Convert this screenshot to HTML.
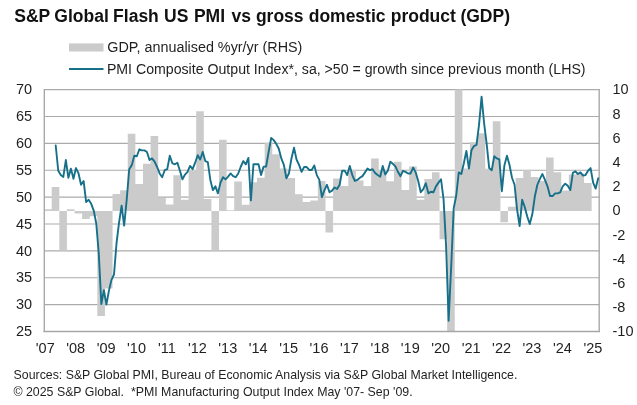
<!DOCTYPE html>
<html><head><meta charset="utf-8"><title>S&amp;P Global Flash US PMI vs GDP</title>
<style>html,body{margin:0;padding:0;background:#fff}body{width:637px;height:405px;overflow:hidden}</style></head>
<body>
<svg width="637" height="405" viewBox="0 0 637 405" style="display:block">
<rect width="637" height="405" fill="#ffffff"/>
<line x1="44.30" x2="599.20" y1="331.50" y2="331.50" stroke="#ababab" stroke-width="1.05"/>
<line x1="44.30" x2="599.20" y1="304.62" y2="304.62" stroke="#ababab" stroke-width="1.05"/>
<line x1="44.30" x2="599.20" y1="277.74" y2="277.74" stroke="#ababab" stroke-width="1.05"/>
<line x1="44.30" x2="599.20" y1="250.87" y2="250.87" stroke="#ababab" stroke-width="1.05"/>
<line x1="44.30" x2="599.20" y1="223.99" y2="223.99" stroke="#ababab" stroke-width="1.05"/>
<line x1="44.30" x2="599.20" y1="197.11" y2="197.11" stroke="#ababab" stroke-width="1.05"/>
<line x1="44.30" x2="599.20" y1="170.23" y2="170.23" stroke="#ababab" stroke-width="1.05"/>
<line x1="44.30" x2="599.20" y1="143.36" y2="143.36" stroke="#ababab" stroke-width="1.05"/>
<line x1="44.30" x2="599.20" y1="116.48" y2="116.48" stroke="#ababab" stroke-width="1.05"/>
<line x1="44.30" x2="599.20" y1="89.60" y2="89.60" stroke="#ababab" stroke-width="1.05"/>
<path d="M44.30,211.00L44.30,209.34L51.70,209.34L51.70,187.09L59.31,187.09L59.31,250.46L66.92,250.46L66.92,209.34L74.52,209.34L74.52,213.45L82.12,213.45L82.12,219.02L89.73,219.02L89.73,216.23L97.34,216.23L97.34,316.02L104.94,316.02L104.94,288.56L112.55,288.56L112.55,194.10L120.15,194.10L120.15,190.35L127.75,190.35L127.75,133.75L135.36,133.75L135.36,184.06L142.97,184.06L142.97,163.74L150.57,163.74L150.57,136.04L158.18,136.04L158.18,197.97L165.78,197.97L165.78,204.50L173.38,204.50L173.38,175.35L180.99,175.35L180.99,199.79L188.59,199.79L188.59,170.03L196.20,170.03L196.20,111.13L203.81,111.13L203.81,199.06L211.41,199.06L211.41,250.22L219.02,250.22L219.02,139.79L226.62,139.79L226.62,210.19L234.22,210.19L234.22,181.40L241.83,181.40L241.83,204.87L249.44,204.87L249.44,182.13L257.04,182.13L257.04,177.77L264.65,177.77L264.65,142.82L272.25,142.82L272.25,154.19L279.86,154.19L279.86,168.58L287.46,168.58L287.46,178.01L295.06,178.01L295.06,194.22L302.67,194.22L302.67,202.08L310.28,202.08L310.28,200.39L317.88,200.39L317.88,180.92L325.49,180.92L325.49,232.44L333.09,232.44L333.09,178.62L340.70,178.62L340.70,186.12L348.30,186.12L348.30,170.15L355.91,170.15L355.91,180.55L363.51,180.55L363.51,186.12L371.12,186.12L371.12,158.42L378.72,158.42L378.72,170.15L386.33,170.15L386.33,181.16L393.93,181.16L393.93,161.69L401.54,161.69L401.54,190.11L409.14,190.11L409.14,166.52L416.75,166.52L416.75,199.79L424.35,199.79L424.35,179.10L431.96,179.10L431.96,172.21L439.56,172.21L439.56,239.22L447.17,239.22L447.17,331.50L454.77,331.50L454.77,89.60L462.38,89.60L462.38,168.46L469.98,168.46L469.98,142.21L477.59,142.21L477.59,133.14L485.19,133.14L485.19,168.70L492.80,168.70L492.80,121.29L500.40,121.29L500.40,222.28L508.01,222.28L508.01,206.68L515.61,206.68L515.61,177.89L523.22,177.89L523.22,170.27L530.82,170.27L530.82,177.05L538.43,177.05L538.43,181.04L546.03,181.04L546.03,157.57L553.63,157.57L553.63,172.21L561.24,172.21L561.24,190.47L568.85,190.47L568.85,174.51L576.45,174.51L576.45,173.54L584.06,173.54L584.06,182.97L591.66,182.97L591.66,211.00Z" fill="#cbcbcb"/>
<line x1="44.30" x2="44.30" y1="89.00" y2="332.10" stroke="#a6a6a6" stroke-width="1.35"/>
<line x1="599.20" x2="599.20" y1="89.00" y2="332.10" stroke="#a6a6a6" stroke-width="1.35"/>
<line x1="43.50" x2="600.00" y1="331.50" y2="331.50" stroke="#a6a6a6" stroke-width="1.35"/>
<polyline points="55.71,145.51 58.24,170.77 60.78,175.07 63.31,176.95 65.85,160.02 68.38,177.76 70.92,168.62 73.45,178.83 75.99,168.08 78.52,173.46 81.06,184.75 83.59,180.98 86.13,201.95 88.66,199.80 91.20,203.83 93.73,210.55 96.27,223.45 98.80,254.09 101.34,304.08 103.87,290.11 106.41,304.62 108.94,290.65 111.48,279.89 114.01,274.52 116.55,242.80 119.08,222.38 121.62,205.71 124.15,225.60 126.69,199.80 129.22,169.16 131.76,165.13 134.29,155.72 136.83,156.26 139.36,149.27 141.90,150.34 144.43,150.34 146.97,151.96 149.50,160.02 152.04,158.41 154.57,161.63 157.11,167.01 159.64,173.46 162.18,177.22 164.71,170.23 167.25,169.16 169.78,155.72 172.32,163.25 174.85,164.32 177.39,162.71 179.92,170.77 182.46,179.37 184.99,174.53 187.53,171.85 190.06,165.93 192.60,169.16 195.13,162.71 197.67,155.18 200.20,159.48 202.74,151.96 205.27,161.09 207.81,162.17 210.34,179.91 212.88,190.12 215.41,186.36 217.95,193.35 220.48,182.60 223.02,177.22 225.55,179.37 228.09,176.68 230.62,173.46 233.16,176.15 235.69,177.22 238.23,173.46 240.76,166.74 243.30,161.09 245.83,164.32 248.37,157.87 250.90,200.34 253.44,164.32 255.97,164.32 258.51,164.32 261.04,175.07 263.58,166.74 266.11,166.47 268.65,151.96 271.18,137.98 273.72,140.13 276.25,143.89 278.79,148.73 281.32,158.41 283.86,164.86 286.39,178.30 288.93,173.46 291.46,158.41 294.00,147.66 296.53,159.48 299.07,164.86 301.60,171.85 304.14,167.01 306.67,167.01 309.21,169.96 311.74,169.96 314.28,165.40 316.81,175.07 319.35,179.91 321.88,197.11 324.42,190.12 326.95,184.75 329.49,192.27 332.02,190.66 334.56,187.44 337.09,189.05 339.63,184.75 342.16,170.77 344.70,170.77 347.23,175.07 349.77,165.93 352.30,175.07 354.84,180.98 357.37,179.91 359.91,177.76 362.44,176.15 364.98,172.38 367.51,168.62 370.05,170.23 372.58,169.16 375.12,172.92 377.65,175.07 380.19,176.68 382.72,165.93 385.26,174.53 387.79,170.77 390.33,161.63 392.86,163.78 395.40,166.47 397.93,171.85 400.47,176.15 403.00,170.77 405.54,171.85 408.07,173.46 410.61,173.46 413.14,167.55 415.68,172.38 418.21,180.98 420.75,192.27 423.28,189.05 425.82,183.13 428.35,193.35 430.89,191.74 433.42,192.27 435.96,186.36 438.49,182.60 441.03,179.37 443.56,199.26 446.10,246.03 448.63,320.75 451.17,266.99 453.70,208.40 456.24,195.50 458.77,172.38 461.31,174.00 463.84,163.25 466.38,150.88 468.91,168.62 471.45,150.34 473.98,146.04 476.52,144.97 479.05,124.54 481.59,96.59 484.12,123.47 486.66,143.89 489.19,168.08 491.73,170.23 494.26,156.26 496.80,158.41 499.33,159.48 501.87,191.20 504.40,165.40 506.94,155.72 509.47,164.86 512.01,177.76 514.54,184.75 517.08,209.47 519.61,226.14 522.15,199.80 524.68,206.79 527.22,216.46 529.75,223.99 532.29,214.31 534.82,196.57 537.36,184.75 539.89,178.83 542.43,174.00 544.96,179.91 547.50,186.36 550.03,196.04 552.57,196.04 555.10,193.35 557.64,193.35 560.17,192.27 562.71,186.36 565.24,183.67 567.78,185.82 570.31,190.12 572.85,172.92 575.38,171.31 577.92,174.00 580.45,172.38 582.99,175.61 585.52,175.07 588.06,170.77 590.59,168.08 593.13,182.60 595.66,188.51 598.20,178.30" fill="none" stroke="#17708a" stroke-width="1.9" stroke-linejoin="round" stroke-linecap="round"/>
<g font-family='"Liberation Sans", Arial, sans-serif' fill="#1f1f1f">
<text y="22.1" font-size="17.5" font-weight="bold" fill="#111"><tspan x="14.3">S&amp;P</tspan> <tspan x="54.3">Global</tspan> <tspan x="113.1">Flash</tspan> <tspan x="164.1">US</tspan> <tspan x="193.9">PMI</tspan> <tspan x="231.5">vs</tspan> <tspan x="255.9">gross</tspan> <tspan x="308.7">domestic</tspan> <tspan x="390.7">product</tspan> <tspan x="460.4">(GDP)</tspan></text>
<rect x="69" y="43.4" width="34.5" height="8.1" fill="#cbcbcb"/>
<line x1="69" x2="103.5" y1="69" y2="69" stroke="#17708a" stroke-width="1.9"/>
<text x="107.3" y="52" font-size="14.35">GDP, annualised %yr/yr (RHS)</text>
<text x="106.9" y="73.5" font-size="14.15">PMI Composite Output Index*, sa, &gt;50 = growth since previous month (LHS)</text>
<text x="32.2" y="336.20" font-size="14.5" text-anchor="end">25</text>
<text x="32.2" y="309.32" font-size="14.5" text-anchor="end">30</text>
<text x="32.2" y="282.44" font-size="14.5" text-anchor="end">35</text>
<text x="32.2" y="255.57" font-size="14.5" text-anchor="end">40</text>
<text x="32.2" y="228.69" font-size="14.5" text-anchor="end">45</text>
<text x="32.2" y="201.81" font-size="14.5" text-anchor="end">50</text>
<text x="32.2" y="174.93" font-size="14.5" text-anchor="end">55</text>
<text x="32.2" y="148.06" font-size="14.5" text-anchor="end">60</text>
<text x="32.2" y="121.18" font-size="14.5" text-anchor="end">65</text>
<text x="32.2" y="94.30" font-size="14.5" text-anchor="end">70</text>
<text x="612.5" y="336.30" font-size="14.5">-10</text>
<text x="612.5" y="312.11" font-size="14.5">-8</text>
<text x="612.5" y="287.92" font-size="14.5">-6</text>
<text x="612.5" y="263.73" font-size="14.5">-4</text>
<text x="612.5" y="239.54" font-size="14.5">-2</text>
<text x="612.5" y="215.35" font-size="14.5">0</text>
<text x="612.5" y="191.16" font-size="14.5">2</text>
<text x="612.5" y="166.97" font-size="14.5">4</text>
<text x="612.5" y="142.78" font-size="14.5">6</text>
<text x="612.5" y="118.59" font-size="14.5">8</text>
<text x="612.5" y="94.40" font-size="14.5">10</text>
<text x="45.27" y="352.9" font-size="14.5" text-anchor="middle">'07</text>
<text x="75.69" y="352.9" font-size="14.5" text-anchor="middle">'08</text>
<text x="106.11" y="352.9" font-size="14.5" text-anchor="middle">'09</text>
<text x="136.53" y="352.9" font-size="14.5" text-anchor="middle">'10</text>
<text x="166.95" y="352.9" font-size="14.5" text-anchor="middle">'11</text>
<text x="197.37" y="352.9" font-size="14.5" text-anchor="middle">'12</text>
<text x="227.79" y="352.9" font-size="14.5" text-anchor="middle">'13</text>
<text x="258.21" y="352.9" font-size="14.5" text-anchor="middle">'14</text>
<text x="288.63" y="352.9" font-size="14.5" text-anchor="middle">'15</text>
<text x="319.05" y="352.9" font-size="14.5" text-anchor="middle">'16</text>
<text x="349.47" y="352.9" font-size="14.5" text-anchor="middle">'17</text>
<text x="379.89" y="352.9" font-size="14.5" text-anchor="middle">'18</text>
<text x="410.31" y="352.9" font-size="14.5" text-anchor="middle">'19</text>
<text x="440.73" y="352.9" font-size="14.5" text-anchor="middle">'20</text>
<text x="471.15" y="352.9" font-size="14.5" text-anchor="middle">'21</text>
<text x="501.57" y="352.9" font-size="14.5" text-anchor="middle">'22</text>
<text x="531.99" y="352.9" font-size="14.5" text-anchor="middle">'23</text>
<text x="562.41" y="352.9" font-size="14.5" text-anchor="middle">'24</text>
<text x="592.83" y="352.9" font-size="14.5" text-anchor="middle">'25</text>
<text x="13.6" y="379.1" font-size="12.9" textLength="503.8" lengthAdjust="spacingAndGlyphs">Sources: S&amp;P Global PMI, Bureau of Economic Analysis via S&amp;P Global Market Intelligence.</text>
<text x="13.4" y="396.0" font-size="12.9" textLength="399.2" lengthAdjust="spacingAndGlyphs" xml:space="preserve">© 2025 S&amp;P Global.  *PMI Manufacturing Output Index May '07- Sep '09.</text>
</g></svg>
</body></html>
